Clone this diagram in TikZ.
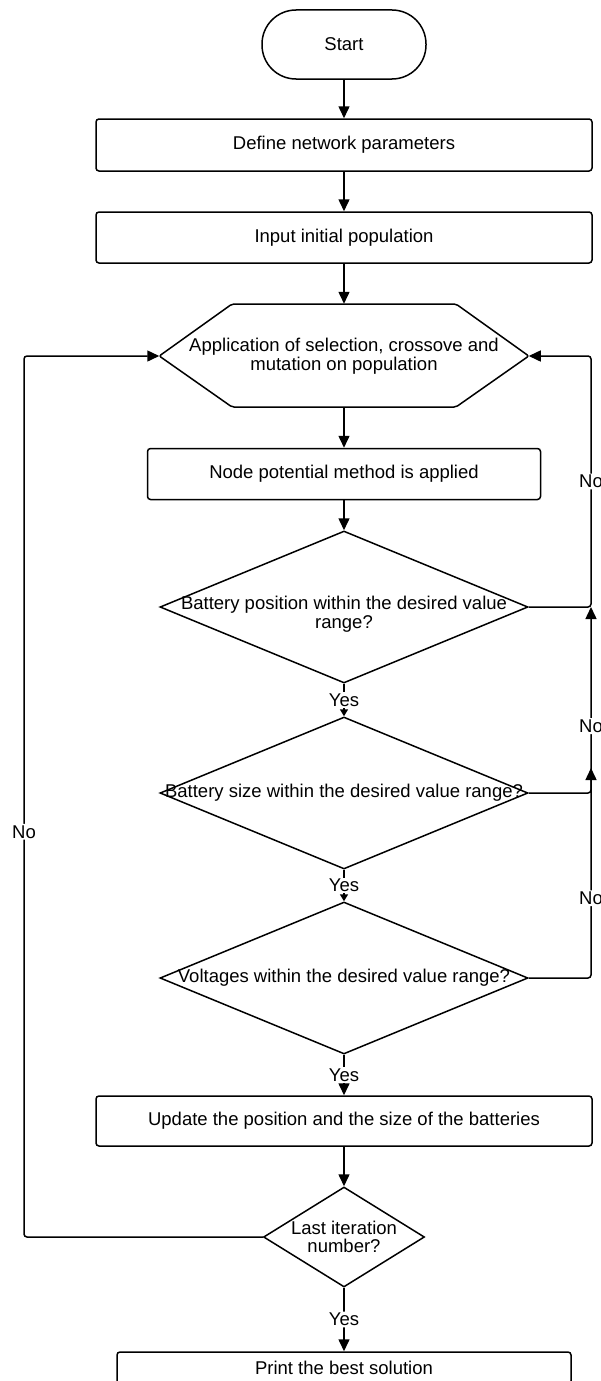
\documentclass[tikz,border=0pt]{standalone}
\usepackage{fontspec}
\setmainfont{Liberation Sans}
\usepackage{tikz}
\usetikzlibrary{arrows.meta, shapes.geometric}

\begin{document}
\begin{tikzpicture}[x=1pt, y=-1pt, line width=1.5pt,
  font=\fontsize{18.5}{18.7}\selectfont,
  box/.style={shape=rectangle, draw, rounded corners=3pt, align=center},
  term/.style={shape=rectangle, draw, rounded corners=34pt, minimum width=164pt, minimum height=69pt},
  cond/.style={shape=diamond, draw, minimum width=368pt, minimum height=152pt, inner sep=0pt},
  lbl/.style={fill=white, inner sep=1.5pt},
  flow/.style={-{Triangle[length=12pt, width=11pt]}, rounded corners=3pt},
  short/.style={-{Triangle[length=7pt, width=8pt]}}]
  \useasboundingbox (0, 0) rectangle (601, 1381);
  \node (start) at (344, 44.5) [term] {Start};
  \node (def) at (344, 145) [box, minimum width=496pt, minimum height=52pt] {Define network parameters};
  \node (inp) at (344, 237.5) [box, minimum width=496pt, minimum height=51pt] {Input initial population};
  \node (hex) at (344, 356) [minimum width=368pt, minimum height=103pt, align=center] {Application of selection, crossove and\\mutation on population};
  \draw[rounded corners=2pt] (hex.west) -- (232, 304) -- (456, 304) -- (hex.east) -- (456, 407) -- (232, 407) -- cycle;
  \node (npm) at (344, 474) [box, minimum width=393pt, minimum height=51pt] {Node potential method is applied};
  \node (d1) at (344, 607) [cond, label={[align=center, yshift=-7pt]center:{Battery position within the desired value\\range?}}] {};
  \node (d2) at (344, 793) [cond, label={center:{Battery size within the desired value range?}}] {};
  \node (d3) at (344, 978) [cond, label={center:{Voltages within the desired value range?}}] {};
  \node (upd) at (344, 1121) [box, minimum width=496pt, minimum height=50pt] {Update the position and the size of the batteries};
  \node (d4) at (344, 1237) [cond, minimum width=161pt, minimum height=100pt, label={[align=center]center:{Last iteration\\number?}}] {};
  \node (prt) at (344, 1368) [box, minimum width=454pt, minimum height=32pt] {Print the best solution};
  \coordinate (r0) at (591, 356);
  \coordinate (r1) at (591, 607);
  \coordinate (r2) at (591, 768);
  \coordinate (l0) at (24, 356);
  \draw[flow] (start) -- (def);
  \draw[flow] (def) -- (inp);
  \draw[flow] (inp) -- (hex);
  \draw[flow] (hex) -- (npm);
  \draw[flow] (npm) -- (d1);
  \draw[short] (d1) -- node[lbl] {Yes} (d2);
  \draw[short] (d2) -- node[lbl] {Yes} (d3);
  \draw[flow] (d3) -- node[lbl] {Yes} (upd);
  \draw[flow] (upd) -- (d4);
  \draw[flow] (d4) -- node[lbl] {Yes} (prt);
  \draw[flow] (d1.east) -| node[lbl, pos=0.75] {No} (r0) -- (hex.east);
  \draw[flow] (d2.east) -| node[lbl, pos=0.68] {No} (r1);
  \draw[flow] (d3.east) -| node[lbl, pos=0.69] {No} (r2);
  \draw[flow] (d4.west) -| node[lbl, pos=0.73] {No} (l0) -- (hex.west);
\end{tikzpicture}
\end{document}
